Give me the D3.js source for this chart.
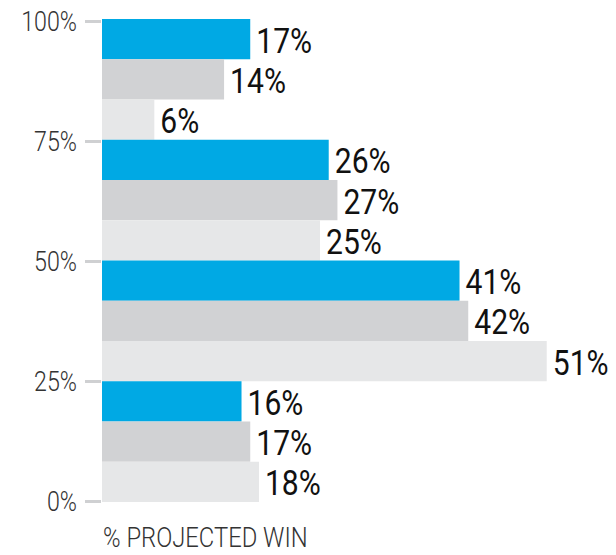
<!DOCTYPE html>
<html><head><meta charset="utf-8">
<script src="https://cdn.jsdelivr.net/npm/d3@7"></script>
<style>
html,body{margin:0;padding:0;background:#fff;}
svg{display:block;}
</style></head>
<body>
<svg id="chart" width="616" height="555"></svg>
<script>
// Data
const groups = ["75–100%", "50–75%", "25–50%", "0–25%"];
const seriesNames = ["A", "B", "C"];
const seriesA = [17, 26, 41, 16];
const seriesB = [14, 27, 42, 17];
const seriesC = [6, 25, 51, 18];
const yTicks = [0, 25, 50, 75, 100];
const colors = ["#00A9E4", "#D1D2D4", "#E6E7E8"];
const axisTitle = "% PROJECTED WIN";

const svg = d3.select("#chart");
const x = d3.scaleLinear().domain([0, 100]).range([102, 974]);
const y = d3.scaleLinear().domain([0, 100]).range([501, 21]);
const yg = d3.scaleBand().domain(groups).range([19, 502]).padding(0);
const ys = d3.scaleBand().domain(seriesNames).range([0, yg.bandwidth()]).padding(0);
const color = d3.scaleOrdinal().domain(seriesNames).range(colors);

const rows = [];
groups.forEach((g, i) => {
  [seriesA, seriesB, seriesC].forEach((arr, j) => {
    rows.push({group: g, series: seriesNames[j], value: arr[i]});
  });
});

// axis
const axis = d3.axisLeft(y).tickValues(yTicks).tickSize(16).tickPadding(8)
  .tickFormat(d => d + "%");
const ag = svg.append("g").attr("transform", "translate(101,0)").call(axis);
ag.select(".domain").remove();
ag.selectAll(".tick line").attr("stroke", "#CFD0D2").attr("stroke-width", 3);
ag.selectAll(".tick text")
  .attr("fill", "#333")
  .attr("font-family", "Roboto, 'DejaVu Sans', sans-serif")
  .attr("font-weight", 300)
  .attr("font-size", 27)
  .attr("dy", "0.36em")
  .each(function() {
    const t = d3.select(this);
    const xx = +t.attr("x");
    t.attr("x", null).attr("transform", `translate(${xx},0) scale(0.86,1)`);
  });

// bars
svg.append("g").selectAll("rect").data(rows).join("rect")
  .attr("x", x(0))
  .attr("y", d => yg(d.group) + ys(d.series))
  .attr("width", d => x(d.value) - x(0))
  .attr("height", ys.bandwidth())
  .attr("fill", d => color(d.series));

// value labels
svg.append("g").selectAll("text").data(rows).join("text")
  .attr("transform", d => `translate(${x(d.value) + 6},${yg(d.group) + ys(d.series) + ys.bandwidth() / 2 + 1}) scale(0.86,1)`)
  .attr("dy", "0.36em")
  .attr("fill", "#111")
  .attr("font-family", "Roboto, 'DejaVu Sans', sans-serif")
  .attr("font-weight", 400)
  .attr("font-size", 35)
  .text(d => d.value + "%");

// axis title
svg.append("text")
  .attr("transform", "translate(103,547) scale(0.85,1)")
  .attr("fill", "#333")
  .attr("font-family", "Roboto, 'DejaVu Sans', sans-serif")
  .attr("font-weight", 300)
  .attr("font-size", 28)
  .text(axisTitle);
</script>
</body></html>
